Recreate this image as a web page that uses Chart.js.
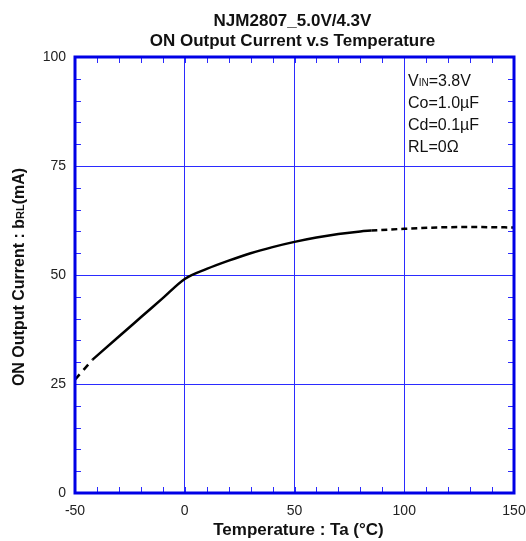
<!DOCTYPE html>
<html>
<head>
<meta charset="utf-8">
<script src="https://cdn.jsdelivr.net/npm/chart.js@4.4.0/dist/chart.umd.min.js"></script>
<style>
  html, body { margin: 0; padding: 0; background: #fff; }
  #wrap { width: 526px; height: 541px; }
</style>
</head>
<body>
<div id="wrap"><canvas id="chart" width="526" height="541"></canvas></div>
<script>
// Kurva dibagi tiga: ujung kiri (putus-putus), bagian utama (solid), ujung kanan (putus-putus)
const TEMP_LOW = [-50, -42];
const CURRENT_LOW = [26.0, 30.6];

const TEMP_MAIN = [-42, -30, -20, -10, 0, 10, 20, 30, 40, 50, 60, 70, 80, 85];
const CURRENT_MAIN = [30.6, 35.9, 40.3, 44.7, 49.1, 51.4, 53.3, 55.0, 56.4, 57.6, 58.6, 59.4, 60.0, 60.2];

const TEMP_HIGH = [85, 100, 115, 130, 150];
const CURRENT_HIGH = [60.2, 60.6, 60.9, 61.0, 60.9];

const X_TICKS = [-50, 0, 50, 100, 150];
const Y_TICKS = [0, 25, 50, 75, 100];

const TITLE_LINES = ["NJM2807_5.0V/4.3V", "ON Output Current v.s Temperature"];
const X_TITLE = "Temperature : Ta (°C)";
// [teks, kecil?]
const Y_TITLE = [["ON Output Current : b", false], ["RL", true], ["(mA)", false]];
const NOTES = [
  [["V", false], ["IN", true], ["=3.8V", false]],
  [["Co=1.0µF", false]],
  [["Cd=0.1µF", false]],
  [["RL=0Ω", false]],
];

const FONT = "'Liberation Sans', Arial, sans-serif";
const GRID_BLUE = "#2b2bff";
const FRAME_BLUE = "#0000e6";

function toPoints(xs, ys) {
  return xs.map((x, i) => ({ x, y: ys[i] }));
}

// Gambar teks campuran ukuran besar/kecil pada satu baseline
function runsWidth(ctx, runs, size, smallSize, weight) {
  return runs.reduce((w, [txt, small]) => {
    ctx.font = `${weight} ${small ? smallSize : size}px ${FONT}`;
    return w + ctx.measureText(txt).width;
  }, 0);
}

function drawRuns(ctx, runs, x, y, size, smallSize, weight) {
  let cx = x;
  runs.forEach(([txt, small]) => {
    ctx.font = `${weight} ${small ? smallSize : size}px ${FONT}`;
    ctx.fillText(txt, cx, y);
    cx += ctx.measureText(txt).width;
  });
}

const framePlugin = {
  id: "frame",
  afterDatasetsDraw(chart) {
    const { ctx, chartArea: a, scales } = chart;
    ctx.save();
    ctx.strokeStyle = GRID_BLUE;
    ctx.lineWidth = 1;
    ctx.beginPath();
    for (let t = -50; t <= 150; t += 10) {
      const px = Math.round(scales.x.getPixelForValue(t)) + 0.5;
      ctx.moveTo(px, a.bottom);
      ctx.lineTo(px, a.bottom - 6);
      ctx.moveTo(px, a.top);
      ctx.lineTo(px, a.top + 6);
    }
    for (let v = 0; v <= 100; v += 5) {
      const py = Math.round(scales.y.getPixelForValue(v)) + 0.5;
      ctx.moveTo(a.left, py);
      ctx.lineTo(a.left + 6, py);
      ctx.moveTo(a.right, py);
      ctx.lineTo(a.right - 6, py);
    }
    ctx.stroke();

    ctx.strokeStyle = FRAME_BLUE;
    ctx.lineWidth = 3;
    ctx.strokeRect(a.left, a.top, a.width, a.height);
    ctx.restore();
  },
  afterDraw(chart) {
    const { ctx, chartArea: a } = chart;
    const midX = (a.left + a.right) / 2;
    ctx.save();
    ctx.fillStyle = "#111";
    ctx.textBaseline = "middle";

    // Judul dua baris, di tengah area plot
    ctx.textAlign = "center";
    ctx.font = `bold 17px ${FONT}`;
    TITLE_LINES.forEach((t, i) => ctx.fillText(t, midX - 2, 21 + i * 20));

    // Judul sumbu X
    ctx.font = `bold 17px ${FONT}`;
    ctx.fillText(X_TITLE, midX + 4, 530);

    // Keterangan kondisi uji di pojok kanan atas
    ctx.textAlign = "left";
    ctx.textBaseline = "alphabetic";
    NOTES.forEach((runs, i) => {
      drawRuns(ctx, runs, a.right - 106, a.top + 29 + i * 22, 16, 10, "normal");
    });

    // Judul sumbu Y (diputar)
    ctx.translate(24, (a.top + a.bottom) / 2 + 2);
    ctx.rotate(-Math.PI / 2);
    const w = runsWidth(ctx, Y_TITLE, 16, 11, "bold");
    drawRuns(ctx, Y_TITLE, -w / 2, 0, 16, 11, "bold");
    ctx.restore();
  },
};

function renderChart() {
  const ctx = document.getElementById("chart").getContext("2d");

  const line = (xs, ys, dash) => ({
    data: toPoints(xs, ys),
    borderColor: "#000",
    borderWidth: 2.5,
    borderDash: dash,
    pointRadius: 0,
    cubicInterpolationMode: "monotone",
    fill: false,
  });

  new Chart(ctx, {
    type: "line",
    data: {
      datasets: [
        line(TEMP_LOW, CURRENT_LOW, [7, 6]),
        line(TEMP_MAIN, CURRENT_MAIN, []),
        line(TEMP_HIGH, CURRENT_HIGH, [6, 4]),
      ],
    },
    options: {
      responsive: false,
      animation: false,
      devicePixelRatio: 1,
      layout: { padding: { left: 0, right: 0, top: 57, bottom: 0 } },
      plugins: {
        legend: { display: false },
        tooltip: { enabled: false },
        title: { display: false },
      },
      scales: {
        x: {
          type: "linear",
          min: -50,
          max: 150,
          afterBuildTicks: (s) => { s.ticks = X_TICKS.map((v) => ({ value: v })); },
          afterFit: (s) => {
            s.height = 48;
            s.paddingRight = 12;
            s.paddingLeft = 0;
          },
          ticks: { color: "#222", font: { family: FONT, size: 14 }, padding: 10, maxRotation: 0 },
          grid: { color: GRID_BLUE, lineWidth: 1, drawTicks: false },
          border: { display: false },
          title: { display: false },
        },
        y: {
          type: "linear",
          min: 0,
          max: 100,
          afterBuildTicks: (s) => { s.ticks = Y_TICKS.map((v) => ({ value: v })); },
          afterFit: (s) => { s.width = 75; },
          ticks: { color: "#222", font: { family: FONT, size: 14 }, padding: 9 },
          grid: { color: GRID_BLUE, lineWidth: 1, drawTicks: false },
          border: { display: false },
          title: { display: false },
        },
      },
    },
    plugins: [framePlugin],
  });
}

renderChart();
</script>
</body>
</html>
